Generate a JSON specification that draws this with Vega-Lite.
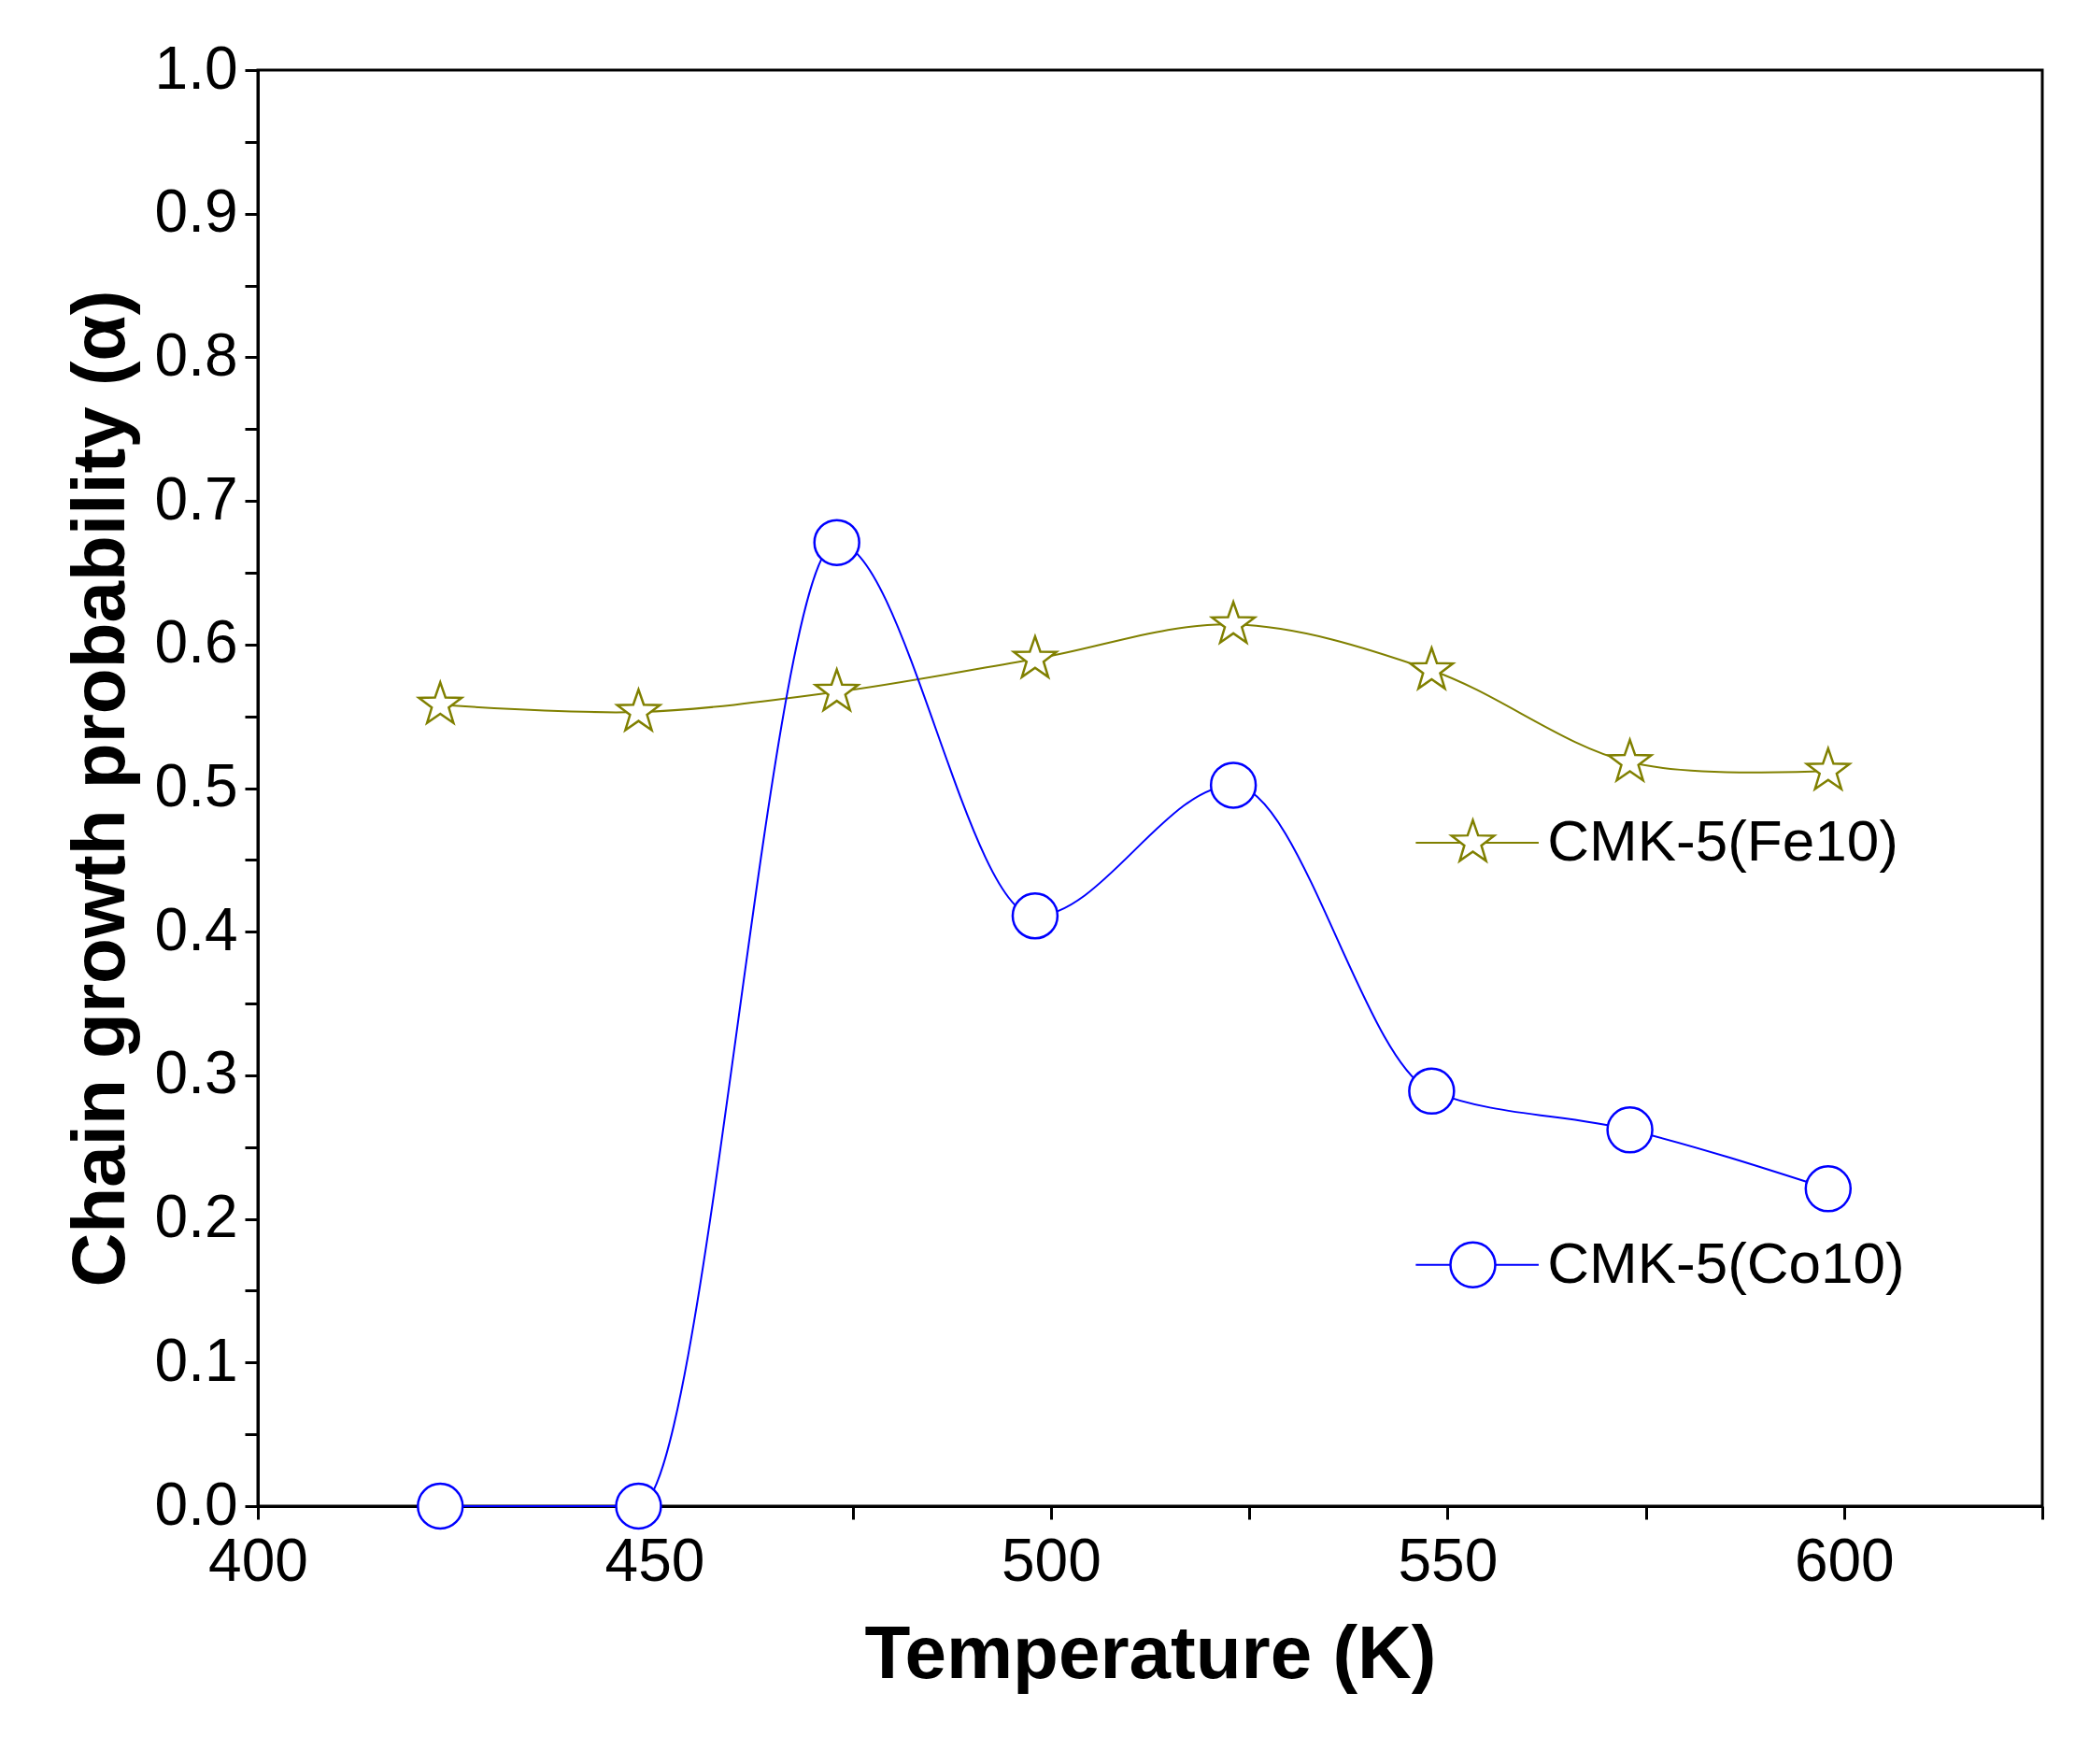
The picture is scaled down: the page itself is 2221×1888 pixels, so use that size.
{
  "$schema": "https://vega.github.io/schema/vega-lite/v6.json",
  "width": 1910,
  "height": 1537,
  "autosize": "none",
  "padding": {"left": 276, "top": 75, "right": 35, "bottom": 276},
  "background": "white",
  "config": {
    "font": "Liberation Sans",
    "view": {"stroke": "black", "strokeWidth": 3},
    "axis": {
      "grid": false, "domainColor": "black", "domainWidth": 3,
      "tickColor": "black", "tickWidth": 3, "tickSize": 14,
      "labelFont": "Liberation Sans", "labelFontSize": 64, "labelColor": "black", "labelFlush": false,
      "titleFont": "Liberation Sans", "titleFontSize": 80, "titleFontWeight": "bold", "titleColor": "black"
    }
  },
  "datasets": {
    "series": [
      {"T": 423, "alpha": 0.558, "s": "CMK-5(Fe10)"},
      {"T": 448, "alpha": 0.553, "s": "CMK-5(Fe10)"},
      {"T": 473, "alpha": 0.567, "s": "CMK-5(Fe10)"},
      {"T": 498, "alpha": 0.590, "s": "CMK-5(Fe10)"},
      {"T": 523, "alpha": 0.614, "s": "CMK-5(Fe10)"},
      {"T": 548, "alpha": 0.582, "s": "CMK-5(Fe10)"},
      {"T": 573, "alpha": 0.518, "s": "CMK-5(Fe10)"},
      {"T": 598, "alpha": 0.512, "s": "CMK-5(Fe10)"},
      {"T": 423, "alpha": 0.0, "s": "CMK-5(Co10)"},
      {"T": 448, "alpha": 0.0, "s": "CMK-5(Co10)"},
      {"T": 473, "alpha": 0.671, "s": "CMK-5(Co10)"},
      {"T": 498, "alpha": 0.411, "s": "CMK-5(Co10)"},
      {"T": 523, "alpha": 0.502, "s": "CMK-5(Co10)"},
      {"T": 548, "alpha": 0.289, "s": "CMK-5(Co10)"},
      {"T": 573, "alpha": 0.262, "s": "CMK-5(Co10)"},
      {"T": 598, "alpha": 0.221, "s": "CMK-5(Co10)"}
    ],
    "legend": [
      {"x1": 546, "x2": 561.5, "xs": 553.2, "xt": 562.6, "y": 0.462, "s": "CMK-5(Fe10)"},
      {"x1": 546, "x2": 561.5, "xs": 553.2, "xt": 562.6, "y": 0.168, "s": "CMK-5(Co10)"}
    ]
  },
  "layer": [
    {
      "data": {"name": "series"},
      "transform": [{"filter": "datum.s == 'CMK-5(Fe10)'"}],
      "mark": {"type": "line", "interpolate": "catmull-rom", "strokeWidth": 2},
      "encoding": {
        "x": {"field": "T", "type": "quantitative", "title": "Temperature (K)",
          "scale": {"domain": [400, 625], "nice": false, "zero": false},
          "axis": {"values": [400, 425, 450, 475, 500, 525, 550, 575, 600, 625],
            "labelExpr": "datum.value % 50 == 0 && datum.value < 625 ? datum.label : ''",
            "labelPadding": 14, "titlePadding": 28}},
        "y": {"field": "alpha", "type": "quantitative", "title": "Chain growth probability (α)",
          "scale": {"domain": [0, 1], "nice": false},
          "axis": {"values": [0, 0.05, 0.1, 0.15, 0.2, 0.25, 0.3, 0.35, 0.4, 0.45, 0.5, 0.55, 0.6, 0.65, 0.7, 0.75, 0.8, 0.85, 0.9, 0.95, 1.0],
            "labelExpr": "round(datum.value*100) % 10 == 0 ? format(datum.value, '.1f') : ''",
            "labelPadding": 8, "titlePadding": 16}},
        "color": {"field": "s", "type": "nominal", "legend": null,
          "scale": {"domain": ["CMK-5(Fe10)", "CMK-5(Co10)"], "range": ["#808000", "#0000ff"]}}
      }
    },
    {
      "data": {"name": "series"},
      "transform": [{"filter": "datum.s == 'CMK-5(Co10)'"}],
      "mark": {"type": "line", "interpolate": "monotone", "strokeWidth": 2},
      "encoding": {
        "x": {"field": "T", "type": "quantitative"},
        "y": {"field": "alpha", "type": "quantitative"},
        "color": {"field": "s", "type": "nominal", "legend": null}
      }
    },
    {
      "data": {"name": "series"},
      "mark": {"type": "point", "filled": false, "fill": "white", "fillOpacity": 1, "strokeWidth": 2.5, "opacity": 1},
      "encoding": {
        "x": {"field": "T", "type": "quantitative"},
        "y": {"field": "alpha", "type": "quantitative"},
        "color": {"field": "s", "type": "nominal", "legend": null},
        "shape": {"field": "s", "type": "nominal", "legend": null,
          "scale": {"domain": ["CMK-5(Fe10)", "CMK-5(Co10)"],
            "range": ["M0,-1L0.235,-0.324L0.951,-0.309L0.38,0.124L0.588,0.809L0,0.4L-0.588,0.809L-0.38,0.124L-0.951,-0.309L-0.235,-0.324Z", "circle"]}},
        "size": {"value": 2300}
      }
    },
    {
      "data": {"name": "legend"},
      "mark": {"type": "rule", "strokeWidth": 2},
      "encoding": {
        "x": {"field": "x1", "type": "quantitative"},
        "x2": {"field": "x2"},
        "y": {"field": "y", "type": "quantitative"},
        "color": {"field": "s", "type": "nominal", "legend": null}
      }
    },
    {
      "data": {"name": "legend"},
      "mark": {"type": "point", "filled": false, "fill": "white", "fillOpacity": 1, "strokeWidth": 2.5, "opacity": 1},
      "encoding": {
        "x": {"field": "xs", "type": "quantitative"},
        "y": {"field": "y", "type": "quantitative"},
        "color": {"field": "s", "type": "nominal", "legend": null},
        "shape": {"field": "s", "type": "nominal", "legend": null},
        "size": {"value": 2300}
      }
    },
    {
      "data": {"name": "legend"},
      "mark": {"type": "text", "align": "left", "baseline": "middle", "fontSize": 62, "color": "black"},
      "encoding": {
        "x": {"field": "xt", "type": "quantitative"},
        "y": {"field": "y", "type": "quantitative"},
        "text": {"field": "s"}
      }
    }
  ]
}
